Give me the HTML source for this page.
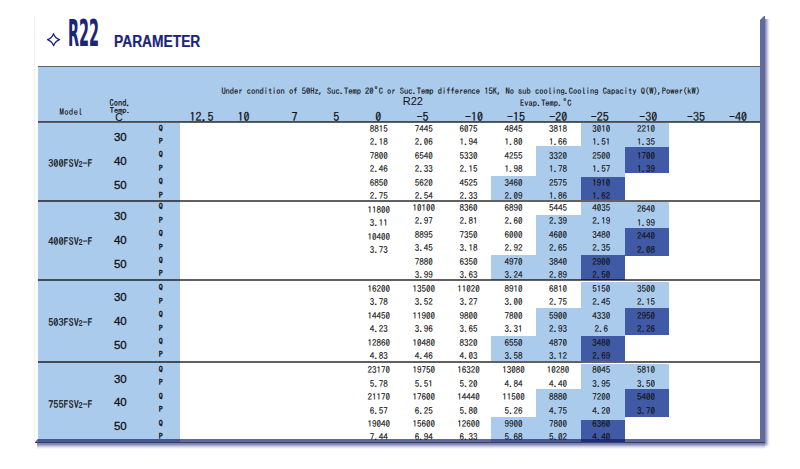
<!DOCTYPE html>
<html><head><meta charset="utf-8"><style>
html,body{margin:0;padding:0;background:#fff;width:800px;height:469px;overflow:hidden;position:relative}
body>div{position:absolute;color:#111}
.sub{font-size:7.5px;position:relative;top:0px}
</style></head><body>
<div style="left:34px;top:16px;width:1px;height:428px;background:#f3f3f3"></div>
<svg style="position:absolute;left:0;top:0" width="800" height="469">
  <path d="M53.5 33.7 Q55.1 38.1 59.6 39.7 Q55.1 41.3 53.6 45.7 Q52.0 41.3 47.5 39.7 Q52.0 38.1 53.5 33.7 Z" fill="none" stroke="#1c2478" stroke-width="1.25" stroke-linejoin="round"/>
</svg>
<div style="left:67.8px;top:13.4px;font-family:'DejaVu Sans Condensed','DejaVu Sans',sans-serif;font-stretch:condensed;font-weight:bold;font-size:38px;line-height:40px;color:#1c2478;transform:scaleX(0.42);transform-origin:0 0;-webkit-text-stroke:0.2px #1c2478">R22</div>
<div style="left:114.1px;top:32.9px;font-family:'Liberation Sans',sans-serif;font-weight:bold;font-size:16px;line-height:18px;color:#1c2478;-webkit-text-stroke:0.2px #1c2478;transform:scaleX(0.862);transform-origin:0 0">PARAMETER</div>
<div style="left:38px;top:65.8px;width:722px;height:2.0px;background:rgba(0,0,0,0.62);"></div>
<div style="left:38px;top:66.8px;width:722px;height:55.0px;background:#aacbec;"></div>
<div style="left:38px;top:120.8px;width:722px;height:2.0px;background:rgba(0,0,0,0.62);"></div>
<div style="left:38px;top:122.8px;width:142px;height:319.4px;background:#aacbec;"></div>
<div style="left:580.5px;top:123px;width:44.0px;height:54.400000000000006px;background:#aacbec;"></div>
<div style="left:624.5px;top:123px;width:44.5px;height:24px;background:#aacbec;"></div>
<div style="left:535.5px;top:145.5px;width:45.0px;height:54.5px;background:#aacbec;"></div>
<div style="left:624.5px;top:147px;width:44.5px;height:26.30000000000001px;background:#405aa5;"></div>
<div style="left:491px;top:175.5px;width:44.5px;height:24.5px;background:#aacbec;"></div>
<div style="left:580.5px;top:177.4px;width:44.0px;height:22.599999999999994px;background:#405aa5;"></div>
<div style="left:580.5px;top:202px;width:44.0px;height:52.5px;background:#aacbec;"></div>
<div style="left:624.5px;top:202px;width:44.5px;height:25.5px;background:#aacbec;"></div>
<div style="left:535.5px;top:214.5px;width:45.0px;height:65.0px;background:#aacbec;"></div>
<div style="left:624.5px;top:227.5px;width:44.5px;height:28.5px;background:#405aa5;"></div>
<div style="left:491px;top:255px;width:44.5px;height:24.5px;background:#aacbec;"></div>
<div style="left:580.5px;top:254.5px;width:44.0px;height:25.0px;background:#405aa5;"></div>
<div style="left:580.5px;top:281.5px;width:44.0px;height:54.0px;background:#aacbec;"></div>
<div style="left:624.5px;top:281.5px;width:44.5px;height:26.5px;background:#aacbec;"></div>
<div style="left:535.5px;top:308px;width:45.0px;height:53px;background:#aacbec;"></div>
<div style="left:624.5px;top:308px;width:44.5px;height:26.5px;background:#405aa5;"></div>
<div style="left:491px;top:335.5px;width:44.5px;height:25.5px;background:#aacbec;"></div>
<div style="left:580.5px;top:335.5px;width:44.0px;height:25.5px;background:#405aa5;"></div>
<div style="left:580.5px;top:363.5px;width:44.0px;height:56.5px;background:#aacbec;"></div>
<div style="left:624.5px;top:363.5px;width:44.5px;height:25.25px;background:#aacbec;"></div>
<div style="left:535.5px;top:388.5px;width:45.0px;height:53.69999999999999px;background:#aacbec;"></div>
<div style="left:624.5px;top:388.75px;width:44.5px;height:27.75px;background:#405aa5;"></div>
<div style="left:491px;top:417px;width:44.5px;height:25.19999999999999px;background:#aacbec;"></div>
<div style="left:580.5px;top:420px;width:44.0px;height:22.19999999999999px;background:#405aa5;"></div>
<div style="left:38px;top:200px;width:722px;height:2px;background:rgba(0,0,0,0.62);"></div>
<div style="left:38px;top:279.1px;width:722px;height:2.0px;background:rgba(0,0,0,0.62);"></div>
<div style="left:38px;top:361.2px;width:722px;height:2.0px;background:rgba(0,0,0,0.62);"></div>
<div style="left:358.75px;top:124.00px;width:40px;text-align:center;font-family:'IPAGothic',monospace;font-size:9px;line-height:9px;-webkit-text-stroke:0.12px #111;">8815</div>
<div style="left:403.85px;top:124.00px;width:40px;text-align:center;font-family:'IPAGothic',monospace;font-size:9px;line-height:9px;-webkit-text-stroke:0.12px #111;">7445</div>
<div style="left:448.40px;top:124.00px;width:40px;text-align:center;font-family:'IPAGothic',monospace;font-size:9px;line-height:9px;-webkit-text-stroke:0.12px #111;">6075</div>
<div style="left:493.55px;top:124.00px;width:40px;text-align:center;font-family:'IPAGothic',monospace;font-size:9px;line-height:9px;-webkit-text-stroke:0.12px #111;">4845</div>
<div style="left:537.90px;top:124.00px;width:40px;text-align:center;font-family:'IPAGothic',monospace;font-size:9px;line-height:9px;-webkit-text-stroke:0.12px #111;">3818</div>
<div style="left:581.30px;top:124.00px;width:40px;text-align:center;font-family:'IPAGothic',monospace;font-size:9px;line-height:9px;-webkit-text-stroke:0.12px #111;">3010</div>
<div style="left:626.05px;top:124.00px;width:40px;text-align:center;font-family:'IPAGothic',monospace;font-size:9px;line-height:9px;-webkit-text-stroke:0.12px #111;">2210</div>
<div style="left:154.80px;top:123.50px;width:12px;text-align:center;font-family:'IPAGothic',monospace;font-size:8px;line-height:8px;-webkit-text-stroke:0.35px #111;">Q</div>
<div style="left:358.75px;top:137.40px;width:40px;text-align:center;font-family:'IPAGothic',monospace;font-size:9px;line-height:9px;-webkit-text-stroke:0.12px #111;">2.18</div>
<div style="left:403.85px;top:137.40px;width:40px;text-align:center;font-family:'IPAGothic',monospace;font-size:9px;line-height:9px;-webkit-text-stroke:0.12px #111;">2.06</div>
<div style="left:448.40px;top:137.40px;width:40px;text-align:center;font-family:'IPAGothic',monospace;font-size:9px;line-height:9px;-webkit-text-stroke:0.12px #111;">1.94</div>
<div style="left:493.55px;top:137.40px;width:40px;text-align:center;font-family:'IPAGothic',monospace;font-size:9px;line-height:9px;-webkit-text-stroke:0.12px #111;">1.80</div>
<div style="left:537.90px;top:137.40px;width:40px;text-align:center;font-family:'IPAGothic',monospace;font-size:9px;line-height:9px;-webkit-text-stroke:0.12px #111;">1.66</div>
<div style="left:581.30px;top:137.40px;width:40px;text-align:center;font-family:'IPAGothic',monospace;font-size:9px;line-height:9px;-webkit-text-stroke:0.12px #111;">1.51</div>
<div style="left:626.05px;top:137.40px;width:40px;text-align:center;font-family:'IPAGothic',monospace;font-size:9px;line-height:9px;-webkit-text-stroke:0.12px #111;">1.35</div>
<div style="left:154.80px;top:136.90px;width:12px;text-align:center;font-family:'IPAGothic',monospace;font-size:8px;line-height:8px;-webkit-text-stroke:0.35px #111;">P</div>
<div style="left:358.75px;top:150.80px;width:40px;text-align:center;font-family:'IPAGothic',monospace;font-size:9px;line-height:9px;-webkit-text-stroke:0.12px #111;">7800</div>
<div style="left:403.85px;top:150.80px;width:40px;text-align:center;font-family:'IPAGothic',monospace;font-size:9px;line-height:9px;-webkit-text-stroke:0.12px #111;">6540</div>
<div style="left:448.40px;top:150.80px;width:40px;text-align:center;font-family:'IPAGothic',monospace;font-size:9px;line-height:9px;-webkit-text-stroke:0.12px #111;">5330</div>
<div style="left:493.55px;top:150.80px;width:40px;text-align:center;font-family:'IPAGothic',monospace;font-size:9px;line-height:9px;-webkit-text-stroke:0.12px #111;">4255</div>
<div style="left:537.90px;top:150.80px;width:40px;text-align:center;font-family:'IPAGothic',monospace;font-size:9px;line-height:9px;-webkit-text-stroke:0.12px #111;">3320</div>
<div style="left:581.30px;top:150.80px;width:40px;text-align:center;font-family:'IPAGothic',monospace;font-size:9px;line-height:9px;-webkit-text-stroke:0.12px #111;">2500</div>
<div style="left:626.05px;top:150.80px;width:40px;text-align:center;font-family:'IPAGothic',monospace;font-size:9px;line-height:9px;-webkit-text-stroke:0.12px #111;">1700</div>
<div style="left:154.80px;top:150.30px;width:12px;text-align:center;font-family:'IPAGothic',monospace;font-size:8px;line-height:8px;-webkit-text-stroke:0.35px #111;">Q</div>
<div style="left:358.75px;top:164.20px;width:40px;text-align:center;font-family:'IPAGothic',monospace;font-size:9px;line-height:9px;-webkit-text-stroke:0.12px #111;">2.46</div>
<div style="left:403.85px;top:164.20px;width:40px;text-align:center;font-family:'IPAGothic',monospace;font-size:9px;line-height:9px;-webkit-text-stroke:0.12px #111;">2.33</div>
<div style="left:448.40px;top:164.20px;width:40px;text-align:center;font-family:'IPAGothic',monospace;font-size:9px;line-height:9px;-webkit-text-stroke:0.12px #111;">2.15</div>
<div style="left:493.55px;top:164.20px;width:40px;text-align:center;font-family:'IPAGothic',monospace;font-size:9px;line-height:9px;-webkit-text-stroke:0.12px #111;">1.98</div>
<div style="left:537.90px;top:164.20px;width:40px;text-align:center;font-family:'IPAGothic',monospace;font-size:9px;line-height:9px;-webkit-text-stroke:0.12px #111;">1.78</div>
<div style="left:581.30px;top:164.20px;width:40px;text-align:center;font-family:'IPAGothic',monospace;font-size:9px;line-height:9px;-webkit-text-stroke:0.12px #111;">1.57</div>
<div style="left:626.05px;top:164.20px;width:40px;text-align:center;font-family:'IPAGothic',monospace;font-size:9px;line-height:9px;-webkit-text-stroke:0.12px #111;">1.39</div>
<div style="left:154.80px;top:163.70px;width:12px;text-align:center;font-family:'IPAGothic',monospace;font-size:8px;line-height:8px;-webkit-text-stroke:0.35px #111;">P</div>
<div style="left:358.75px;top:177.60px;width:40px;text-align:center;font-family:'IPAGothic',monospace;font-size:9px;line-height:9px;-webkit-text-stroke:0.12px #111;">6850</div>
<div style="left:403.85px;top:177.60px;width:40px;text-align:center;font-family:'IPAGothic',monospace;font-size:9px;line-height:9px;-webkit-text-stroke:0.12px #111;">5620</div>
<div style="left:448.40px;top:177.60px;width:40px;text-align:center;font-family:'IPAGothic',monospace;font-size:9px;line-height:9px;-webkit-text-stroke:0.12px #111;">4525</div>
<div style="left:493.55px;top:177.60px;width:40px;text-align:center;font-family:'IPAGothic',monospace;font-size:9px;line-height:9px;-webkit-text-stroke:0.12px #111;">3460</div>
<div style="left:537.90px;top:177.60px;width:40px;text-align:center;font-family:'IPAGothic',monospace;font-size:9px;line-height:9px;-webkit-text-stroke:0.12px #111;">2575</div>
<div style="left:581.30px;top:177.60px;width:40px;text-align:center;font-family:'IPAGothic',monospace;font-size:9px;line-height:9px;-webkit-text-stroke:0.12px #111;">1910</div>
<div style="left:154.80px;top:177.10px;width:12px;text-align:center;font-family:'IPAGothic',monospace;font-size:8px;line-height:8px;-webkit-text-stroke:0.35px #111;">Q</div>
<div style="left:358.75px;top:191.00px;width:40px;text-align:center;font-family:'IPAGothic',monospace;font-size:9px;line-height:9px;-webkit-text-stroke:0.12px #111;">2.75</div>
<div style="left:403.85px;top:191.00px;width:40px;text-align:center;font-family:'IPAGothic',monospace;font-size:9px;line-height:9px;-webkit-text-stroke:0.12px #111;">2.54</div>
<div style="left:448.40px;top:191.00px;width:40px;text-align:center;font-family:'IPAGothic',monospace;font-size:9px;line-height:9px;-webkit-text-stroke:0.12px #111;">2.33</div>
<div style="left:493.55px;top:191.00px;width:40px;text-align:center;font-family:'IPAGothic',monospace;font-size:9px;line-height:9px;-webkit-text-stroke:0.12px #111;">2.09</div>
<div style="left:537.90px;top:191.00px;width:40px;text-align:center;font-family:'IPAGothic',monospace;font-size:9px;line-height:9px;-webkit-text-stroke:0.12px #111;">1.86</div>
<div style="left:581.30px;top:191.00px;width:40px;text-align:center;font-family:'IPAGothic',monospace;font-size:9px;line-height:9px;-webkit-text-stroke:0.12px #111;">1.62</div>
<div style="left:154.80px;top:190.50px;width:12px;text-align:center;font-family:'IPAGothic',monospace;font-size:8px;line-height:8px;-webkit-text-stroke:0.35px #111;">P</div>
<div style="left:108.30px;top:131.30px;width:24px;text-align:center;font-family:'Liberation Sans',sans-serif;font-size:11.5px;line-height:12px;-webkit-text-stroke:0.3px #111;">30</div>
<div style="left:108.30px;top:155.05px;width:24px;text-align:center;font-family:'Liberation Sans',sans-serif;font-size:11.5px;line-height:12px;-webkit-text-stroke:0.3px #111;">40</div>
<div style="left:108.30px;top:178.80px;width:24px;text-align:center;font-family:'Liberation Sans',sans-serif;font-size:11.5px;line-height:12px;-webkit-text-stroke:0.3px #111;">50</div>
<div style="left:48.20px;top:158.20px;white-space:nowrap;font-family:'IPAGothic',monospace;font-size:10.2px;line-height:10px;-webkit-text-stroke:0.22px #111;">300FSV<span class=sub>2</span>-F</div>
<div style="left:358.75px;top:204.70px;width:40px;text-align:center;font-family:'IPAGothic',monospace;font-size:9px;line-height:9px;-webkit-text-stroke:0.12px #111;">11800</div>
<div style="left:403.85px;top:202.90px;width:40px;text-align:center;font-family:'IPAGothic',monospace;font-size:9px;line-height:9px;-webkit-text-stroke:0.12px #111;">10100</div>
<div style="left:448.40px;top:202.90px;width:40px;text-align:center;font-family:'IPAGothic',monospace;font-size:9px;line-height:9px;-webkit-text-stroke:0.12px #111;">8360</div>
<div style="left:493.55px;top:202.90px;width:40px;text-align:center;font-family:'IPAGothic',monospace;font-size:9px;line-height:9px;-webkit-text-stroke:0.12px #111;">6890</div>
<div style="left:537.90px;top:202.90px;width:40px;text-align:center;font-family:'IPAGothic',monospace;font-size:9px;line-height:9px;-webkit-text-stroke:0.12px #111;">5445</div>
<div style="left:581.30px;top:202.90px;width:40px;text-align:center;font-family:'IPAGothic',monospace;font-size:9px;line-height:9px;-webkit-text-stroke:0.12px #111;">4035</div>
<div style="left:626.05px;top:204.40px;width:40px;text-align:center;font-family:'IPAGothic',monospace;font-size:9px;line-height:9px;-webkit-text-stroke:0.12px #111;">2640</div>
<div style="left:154.80px;top:202.40px;width:12px;text-align:center;font-family:'IPAGothic',monospace;font-size:8px;line-height:8px;-webkit-text-stroke:0.35px #111;">Q</div>
<div style="left:358.75px;top:218.10px;width:40px;text-align:center;font-family:'IPAGothic',monospace;font-size:9px;line-height:9px;-webkit-text-stroke:0.12px #111;">3.11</div>
<div style="left:403.85px;top:216.30px;width:40px;text-align:center;font-family:'IPAGothic',monospace;font-size:9px;line-height:9px;-webkit-text-stroke:0.12px #111;">2.97</div>
<div style="left:448.40px;top:216.30px;width:40px;text-align:center;font-family:'IPAGothic',monospace;font-size:9px;line-height:9px;-webkit-text-stroke:0.12px #111;">2.81</div>
<div style="left:493.55px;top:216.30px;width:40px;text-align:center;font-family:'IPAGothic',monospace;font-size:9px;line-height:9px;-webkit-text-stroke:0.12px #111;">2.60</div>
<div style="left:537.90px;top:216.30px;width:40px;text-align:center;font-family:'IPAGothic',monospace;font-size:9px;line-height:9px;-webkit-text-stroke:0.12px #111;">2.39</div>
<div style="left:581.30px;top:216.30px;width:40px;text-align:center;font-family:'IPAGothic',monospace;font-size:9px;line-height:9px;-webkit-text-stroke:0.12px #111;">2.19</div>
<div style="left:626.05px;top:217.80px;width:40px;text-align:center;font-family:'IPAGothic',monospace;font-size:9px;line-height:9px;-webkit-text-stroke:0.12px #111;">1.99</div>
<div style="left:154.80px;top:215.80px;width:12px;text-align:center;font-family:'IPAGothic',monospace;font-size:8px;line-height:8px;-webkit-text-stroke:0.35px #111;">P</div>
<div style="left:358.75px;top:231.50px;width:40px;text-align:center;font-family:'IPAGothic',monospace;font-size:9px;line-height:9px;-webkit-text-stroke:0.12px #111;">10400</div>
<div style="left:403.85px;top:229.70px;width:40px;text-align:center;font-family:'IPAGothic',monospace;font-size:9px;line-height:9px;-webkit-text-stroke:0.12px #111;">8895</div>
<div style="left:448.40px;top:229.70px;width:40px;text-align:center;font-family:'IPAGothic',monospace;font-size:9px;line-height:9px;-webkit-text-stroke:0.12px #111;">7350</div>
<div style="left:493.55px;top:229.70px;width:40px;text-align:center;font-family:'IPAGothic',monospace;font-size:9px;line-height:9px;-webkit-text-stroke:0.12px #111;">6000</div>
<div style="left:537.90px;top:229.70px;width:40px;text-align:center;font-family:'IPAGothic',monospace;font-size:9px;line-height:9px;-webkit-text-stroke:0.12px #111;">4600</div>
<div style="left:581.30px;top:229.70px;width:40px;text-align:center;font-family:'IPAGothic',monospace;font-size:9px;line-height:9px;-webkit-text-stroke:0.12px #111;">3480</div>
<div style="left:626.05px;top:231.20px;width:40px;text-align:center;font-family:'IPAGothic',monospace;font-size:9px;line-height:9px;-webkit-text-stroke:0.12px #111;">2440</div>
<div style="left:154.80px;top:229.20px;width:12px;text-align:center;font-family:'IPAGothic',monospace;font-size:8px;line-height:8px;-webkit-text-stroke:0.35px #111;">Q</div>
<div style="left:358.75px;top:244.90px;width:40px;text-align:center;font-family:'IPAGothic',monospace;font-size:9px;line-height:9px;-webkit-text-stroke:0.12px #111;">3.73</div>
<div style="left:403.85px;top:243.10px;width:40px;text-align:center;font-family:'IPAGothic',monospace;font-size:9px;line-height:9px;-webkit-text-stroke:0.12px #111;">3.45</div>
<div style="left:448.40px;top:243.10px;width:40px;text-align:center;font-family:'IPAGothic',monospace;font-size:9px;line-height:9px;-webkit-text-stroke:0.12px #111;">3.18</div>
<div style="left:493.55px;top:243.10px;width:40px;text-align:center;font-family:'IPAGothic',monospace;font-size:9px;line-height:9px;-webkit-text-stroke:0.12px #111;">2.92</div>
<div style="left:537.90px;top:243.10px;width:40px;text-align:center;font-family:'IPAGothic',monospace;font-size:9px;line-height:9px;-webkit-text-stroke:0.12px #111;">2.65</div>
<div style="left:581.30px;top:243.10px;width:40px;text-align:center;font-family:'IPAGothic',monospace;font-size:9px;line-height:9px;-webkit-text-stroke:0.12px #111;">2.35</div>
<div style="left:626.05px;top:244.60px;width:40px;text-align:center;font-family:'IPAGothic',monospace;font-size:9px;line-height:9px;-webkit-text-stroke:0.12px #111;">2.08</div>
<div style="left:154.80px;top:242.60px;width:12px;text-align:center;font-family:'IPAGothic',monospace;font-size:8px;line-height:8px;-webkit-text-stroke:0.35px #111;">P</div>
<div style="left:403.85px;top:256.50px;width:40px;text-align:center;font-family:'IPAGothic',monospace;font-size:9px;line-height:9px;-webkit-text-stroke:0.12px #111;">7880</div>
<div style="left:448.40px;top:256.50px;width:40px;text-align:center;font-family:'IPAGothic',monospace;font-size:9px;line-height:9px;-webkit-text-stroke:0.12px #111;">6350</div>
<div style="left:493.55px;top:256.50px;width:40px;text-align:center;font-family:'IPAGothic',monospace;font-size:9px;line-height:9px;-webkit-text-stroke:0.12px #111;">4970</div>
<div style="left:537.90px;top:256.50px;width:40px;text-align:center;font-family:'IPAGothic',monospace;font-size:9px;line-height:9px;-webkit-text-stroke:0.12px #111;">3840</div>
<div style="left:581.30px;top:256.50px;width:40px;text-align:center;font-family:'IPAGothic',monospace;font-size:9px;line-height:9px;-webkit-text-stroke:0.12px #111;">2900</div>
<div style="left:154.80px;top:256.00px;width:12px;text-align:center;font-family:'IPAGothic',monospace;font-size:8px;line-height:8px;-webkit-text-stroke:0.35px #111;">Q</div>
<div style="left:403.85px;top:269.90px;width:40px;text-align:center;font-family:'IPAGothic',monospace;font-size:9px;line-height:9px;-webkit-text-stroke:0.12px #111;">3.99</div>
<div style="left:448.40px;top:269.90px;width:40px;text-align:center;font-family:'IPAGothic',monospace;font-size:9px;line-height:9px;-webkit-text-stroke:0.12px #111;">3.63</div>
<div style="left:493.55px;top:269.90px;width:40px;text-align:center;font-family:'IPAGothic',monospace;font-size:9px;line-height:9px;-webkit-text-stroke:0.12px #111;">3.24</div>
<div style="left:537.90px;top:269.90px;width:40px;text-align:center;font-family:'IPAGothic',monospace;font-size:9px;line-height:9px;-webkit-text-stroke:0.12px #111;">2.89</div>
<div style="left:581.30px;top:269.90px;width:40px;text-align:center;font-family:'IPAGothic',monospace;font-size:9px;line-height:9px;-webkit-text-stroke:0.12px #111;">2.50</div>
<div style="left:154.80px;top:269.40px;width:12px;text-align:center;font-family:'IPAGothic',monospace;font-size:8px;line-height:8px;-webkit-text-stroke:0.35px #111;">P</div>
<div style="left:108.30px;top:210.20px;width:24px;text-align:center;font-family:'Liberation Sans',sans-serif;font-size:11.5px;line-height:12px;-webkit-text-stroke:0.3px #111;">30</div>
<div style="left:108.30px;top:233.95px;width:24px;text-align:center;font-family:'Liberation Sans',sans-serif;font-size:11.5px;line-height:12px;-webkit-text-stroke:0.3px #111;">40</div>
<div style="left:108.30px;top:257.70px;width:24px;text-align:center;font-family:'Liberation Sans',sans-serif;font-size:11.5px;line-height:12px;-webkit-text-stroke:0.3px #111;">50</div>
<div style="left:48.20px;top:235.60px;white-space:nowrap;font-family:'IPAGothic',monospace;font-size:10.2px;line-height:10px;-webkit-text-stroke:0.22px #111;">400FSV<span class=sub>2</span>-F</div>
<div style="left:358.75px;top:283.90px;width:40px;text-align:center;font-family:'IPAGothic',monospace;font-size:9px;line-height:9px;-webkit-text-stroke:0.12px #111;">16200</div>
<div style="left:403.85px;top:283.90px;width:40px;text-align:center;font-family:'IPAGothic',monospace;font-size:9px;line-height:9px;-webkit-text-stroke:0.12px #111;">13500</div>
<div style="left:448.40px;top:283.90px;width:40px;text-align:center;font-family:'IPAGothic',monospace;font-size:9px;line-height:9px;-webkit-text-stroke:0.12px #111;">11020</div>
<div style="left:493.55px;top:283.90px;width:40px;text-align:center;font-family:'IPAGothic',monospace;font-size:9px;line-height:9px;-webkit-text-stroke:0.12px #111;">8910</div>
<div style="left:537.90px;top:283.90px;width:40px;text-align:center;font-family:'IPAGothic',monospace;font-size:9px;line-height:9px;-webkit-text-stroke:0.12px #111;">6810</div>
<div style="left:581.30px;top:283.90px;width:40px;text-align:center;font-family:'IPAGothic',monospace;font-size:9px;line-height:9px;-webkit-text-stroke:0.12px #111;">5150</div>
<div style="left:626.05px;top:283.90px;width:40px;text-align:center;font-family:'IPAGothic',monospace;font-size:9px;line-height:9px;-webkit-text-stroke:0.12px #111;">3500</div>
<div style="left:154.80px;top:283.40px;width:12px;text-align:center;font-family:'IPAGothic',monospace;font-size:8px;line-height:8px;-webkit-text-stroke:0.35px #111;">Q</div>
<div style="left:358.75px;top:297.30px;width:40px;text-align:center;font-family:'IPAGothic',monospace;font-size:9px;line-height:9px;-webkit-text-stroke:0.12px #111;">3.78</div>
<div style="left:403.85px;top:297.30px;width:40px;text-align:center;font-family:'IPAGothic',monospace;font-size:9px;line-height:9px;-webkit-text-stroke:0.12px #111;">3.52</div>
<div style="left:448.40px;top:297.30px;width:40px;text-align:center;font-family:'IPAGothic',monospace;font-size:9px;line-height:9px;-webkit-text-stroke:0.12px #111;">3.27</div>
<div style="left:493.55px;top:297.30px;width:40px;text-align:center;font-family:'IPAGothic',monospace;font-size:9px;line-height:9px;-webkit-text-stroke:0.12px #111;">3.00</div>
<div style="left:537.90px;top:297.30px;width:40px;text-align:center;font-family:'IPAGothic',monospace;font-size:9px;line-height:9px;-webkit-text-stroke:0.12px #111;">2.75</div>
<div style="left:581.30px;top:297.30px;width:40px;text-align:center;font-family:'IPAGothic',monospace;font-size:9px;line-height:9px;-webkit-text-stroke:0.12px #111;">2.45</div>
<div style="left:626.05px;top:297.30px;width:40px;text-align:center;font-family:'IPAGothic',monospace;font-size:9px;line-height:9px;-webkit-text-stroke:0.12px #111;">2.15</div>
<div style="left:154.80px;top:296.80px;width:12px;text-align:center;font-family:'IPAGothic',monospace;font-size:8px;line-height:8px;-webkit-text-stroke:0.35px #111;">P</div>
<div style="left:358.75px;top:310.70px;width:40px;text-align:center;font-family:'IPAGothic',monospace;font-size:9px;line-height:9px;-webkit-text-stroke:0.12px #111;">14450</div>
<div style="left:403.85px;top:310.70px;width:40px;text-align:center;font-family:'IPAGothic',monospace;font-size:9px;line-height:9px;-webkit-text-stroke:0.12px #111;">11900</div>
<div style="left:448.40px;top:310.70px;width:40px;text-align:center;font-family:'IPAGothic',monospace;font-size:9px;line-height:9px;-webkit-text-stroke:0.12px #111;">9800</div>
<div style="left:493.55px;top:310.70px;width:40px;text-align:center;font-family:'IPAGothic',monospace;font-size:9px;line-height:9px;-webkit-text-stroke:0.12px #111;">7800</div>
<div style="left:537.90px;top:310.70px;width:40px;text-align:center;font-family:'IPAGothic',monospace;font-size:9px;line-height:9px;-webkit-text-stroke:0.12px #111;">5900</div>
<div style="left:581.30px;top:310.70px;width:40px;text-align:center;font-family:'IPAGothic',monospace;font-size:9px;line-height:9px;-webkit-text-stroke:0.12px #111;">4330</div>
<div style="left:626.05px;top:310.70px;width:40px;text-align:center;font-family:'IPAGothic',monospace;font-size:9px;line-height:9px;-webkit-text-stroke:0.12px #111;">2950</div>
<div style="left:154.80px;top:310.20px;width:12px;text-align:center;font-family:'IPAGothic',monospace;font-size:8px;line-height:8px;-webkit-text-stroke:0.35px #111;">Q</div>
<div style="left:358.75px;top:324.10px;width:40px;text-align:center;font-family:'IPAGothic',monospace;font-size:9px;line-height:9px;-webkit-text-stroke:0.12px #111;">4.23</div>
<div style="left:403.85px;top:324.10px;width:40px;text-align:center;font-family:'IPAGothic',monospace;font-size:9px;line-height:9px;-webkit-text-stroke:0.12px #111;">3.96</div>
<div style="left:448.40px;top:324.10px;width:40px;text-align:center;font-family:'IPAGothic',monospace;font-size:9px;line-height:9px;-webkit-text-stroke:0.12px #111;">3.65</div>
<div style="left:493.55px;top:324.10px;width:40px;text-align:center;font-family:'IPAGothic',monospace;font-size:9px;line-height:9px;-webkit-text-stroke:0.12px #111;">3.31</div>
<div style="left:537.90px;top:324.10px;width:40px;text-align:center;font-family:'IPAGothic',monospace;font-size:9px;line-height:9px;-webkit-text-stroke:0.12px #111;">2.93</div>
<div style="left:581.30px;top:324.10px;width:40px;text-align:center;font-family:'IPAGothic',monospace;font-size:9px;line-height:9px;-webkit-text-stroke:0.12px #111;">2.6</div>
<div style="left:626.05px;top:324.10px;width:40px;text-align:center;font-family:'IPAGothic',monospace;font-size:9px;line-height:9px;-webkit-text-stroke:0.12px #111;">2.26</div>
<div style="left:154.80px;top:323.60px;width:12px;text-align:center;font-family:'IPAGothic',monospace;font-size:8px;line-height:8px;-webkit-text-stroke:0.35px #111;">P</div>
<div style="left:358.75px;top:337.50px;width:40px;text-align:center;font-family:'IPAGothic',monospace;font-size:9px;line-height:9px;-webkit-text-stroke:0.12px #111;">12860</div>
<div style="left:403.85px;top:337.50px;width:40px;text-align:center;font-family:'IPAGothic',monospace;font-size:9px;line-height:9px;-webkit-text-stroke:0.12px #111;">10480</div>
<div style="left:448.40px;top:337.50px;width:40px;text-align:center;font-family:'IPAGothic',monospace;font-size:9px;line-height:9px;-webkit-text-stroke:0.12px #111;">8320</div>
<div style="left:493.55px;top:337.50px;width:40px;text-align:center;font-family:'IPAGothic',monospace;font-size:9px;line-height:9px;-webkit-text-stroke:0.12px #111;">6550</div>
<div style="left:537.90px;top:337.50px;width:40px;text-align:center;font-family:'IPAGothic',monospace;font-size:9px;line-height:9px;-webkit-text-stroke:0.12px #111;">4870</div>
<div style="left:581.30px;top:337.50px;width:40px;text-align:center;font-family:'IPAGothic',monospace;font-size:9px;line-height:9px;-webkit-text-stroke:0.12px #111;">3480</div>
<div style="left:154.80px;top:337.00px;width:12px;text-align:center;font-family:'IPAGothic',monospace;font-size:8px;line-height:8px;-webkit-text-stroke:0.35px #111;">Q</div>
<div style="left:358.75px;top:350.90px;width:40px;text-align:center;font-family:'IPAGothic',monospace;font-size:9px;line-height:9px;-webkit-text-stroke:0.12px #111;">4.83</div>
<div style="left:403.85px;top:350.90px;width:40px;text-align:center;font-family:'IPAGothic',monospace;font-size:9px;line-height:9px;-webkit-text-stroke:0.12px #111;">4.46</div>
<div style="left:448.40px;top:350.90px;width:40px;text-align:center;font-family:'IPAGothic',monospace;font-size:9px;line-height:9px;-webkit-text-stroke:0.12px #111;">4.03</div>
<div style="left:493.55px;top:350.90px;width:40px;text-align:center;font-family:'IPAGothic',monospace;font-size:9px;line-height:9px;-webkit-text-stroke:0.12px #111;">3.58</div>
<div style="left:537.90px;top:350.90px;width:40px;text-align:center;font-family:'IPAGothic',monospace;font-size:9px;line-height:9px;-webkit-text-stroke:0.12px #111;">3.12</div>
<div style="left:581.30px;top:350.90px;width:40px;text-align:center;font-family:'IPAGothic',monospace;font-size:9px;line-height:9px;-webkit-text-stroke:0.12px #111;">2.69</div>
<div style="left:154.80px;top:350.40px;width:12px;text-align:center;font-family:'IPAGothic',monospace;font-size:8px;line-height:8px;-webkit-text-stroke:0.35px #111;">P</div>
<div style="left:108.30px;top:291.20px;width:24px;text-align:center;font-family:'Liberation Sans',sans-serif;font-size:11.5px;line-height:12px;-webkit-text-stroke:0.3px #111;">30</div>
<div style="left:108.30px;top:314.95px;width:24px;text-align:center;font-family:'Liberation Sans',sans-serif;font-size:11.5px;line-height:12px;-webkit-text-stroke:0.3px #111;">40</div>
<div style="left:108.30px;top:338.70px;width:24px;text-align:center;font-family:'Liberation Sans',sans-serif;font-size:11.5px;line-height:12px;-webkit-text-stroke:0.3px #111;">50</div>
<div style="left:48.20px;top:317.40px;white-space:nowrap;font-family:'IPAGothic',monospace;font-size:10.2px;line-height:10px;-webkit-text-stroke:0.22px #111;">503FSV<span class=sub>2</span>-F</div>
<div style="left:358.75px;top:365.40px;width:40px;text-align:center;font-family:'IPAGothic',monospace;font-size:9px;line-height:9px;-webkit-text-stroke:0.12px #111;">23170</div>
<div style="left:403.85px;top:365.40px;width:40px;text-align:center;font-family:'IPAGothic',monospace;font-size:9px;line-height:9px;-webkit-text-stroke:0.12px #111;">19750</div>
<div style="left:448.40px;top:365.40px;width:40px;text-align:center;font-family:'IPAGothic',monospace;font-size:9px;line-height:9px;-webkit-text-stroke:0.12px #111;">16320</div>
<div style="left:493.55px;top:365.40px;width:40px;text-align:center;font-family:'IPAGothic',monospace;font-size:9px;line-height:9px;-webkit-text-stroke:0.12px #111;">13080</div>
<div style="left:537.90px;top:365.40px;width:40px;text-align:center;font-family:'IPAGothic',monospace;font-size:9px;line-height:9px;-webkit-text-stroke:0.12px #111;">10280</div>
<div style="left:581.30px;top:365.40px;width:40px;text-align:center;font-family:'IPAGothic',monospace;font-size:9px;line-height:9px;-webkit-text-stroke:0.12px #111;">8045</div>
<div style="left:626.05px;top:365.40px;width:40px;text-align:center;font-family:'IPAGothic',monospace;font-size:9px;line-height:9px;-webkit-text-stroke:0.12px #111;">5810</div>
<div style="left:154.80px;top:364.90px;width:12px;text-align:center;font-family:'IPAGothic',monospace;font-size:8px;line-height:8px;-webkit-text-stroke:0.35px #111;">Q</div>
<div style="left:358.75px;top:378.80px;width:40px;text-align:center;font-family:'IPAGothic',monospace;font-size:9px;line-height:9px;-webkit-text-stroke:0.12px #111;">5.78</div>
<div style="left:403.85px;top:378.80px;width:40px;text-align:center;font-family:'IPAGothic',monospace;font-size:9px;line-height:9px;-webkit-text-stroke:0.12px #111;">5.51</div>
<div style="left:448.40px;top:378.80px;width:40px;text-align:center;font-family:'IPAGothic',monospace;font-size:9px;line-height:9px;-webkit-text-stroke:0.12px #111;">5.20</div>
<div style="left:493.55px;top:378.80px;width:40px;text-align:center;font-family:'IPAGothic',monospace;font-size:9px;line-height:9px;-webkit-text-stroke:0.12px #111;">4.84</div>
<div style="left:537.90px;top:378.80px;width:40px;text-align:center;font-family:'IPAGothic',monospace;font-size:9px;line-height:9px;-webkit-text-stroke:0.12px #111;">4.40</div>
<div style="left:581.30px;top:378.80px;width:40px;text-align:center;font-family:'IPAGothic',monospace;font-size:9px;line-height:9px;-webkit-text-stroke:0.12px #111;">3.95</div>
<div style="left:626.05px;top:378.80px;width:40px;text-align:center;font-family:'IPAGothic',monospace;font-size:9px;line-height:9px;-webkit-text-stroke:0.12px #111;">3.50</div>
<div style="left:154.80px;top:378.30px;width:12px;text-align:center;font-family:'IPAGothic',monospace;font-size:8px;line-height:8px;-webkit-text-stroke:0.35px #111;">P</div>
<div style="left:358.75px;top:392.20px;width:40px;text-align:center;font-family:'IPAGothic',monospace;font-size:9px;line-height:9px;-webkit-text-stroke:0.12px #111;">21170</div>
<div style="left:403.85px;top:392.20px;width:40px;text-align:center;font-family:'IPAGothic',monospace;font-size:9px;line-height:9px;-webkit-text-stroke:0.12px #111;">17600</div>
<div style="left:448.40px;top:392.20px;width:40px;text-align:center;font-family:'IPAGothic',monospace;font-size:9px;line-height:9px;-webkit-text-stroke:0.12px #111;">14440</div>
<div style="left:493.55px;top:392.20px;width:40px;text-align:center;font-family:'IPAGothic',monospace;font-size:9px;line-height:9px;-webkit-text-stroke:0.12px #111;">11500</div>
<div style="left:537.90px;top:392.20px;width:40px;text-align:center;font-family:'IPAGothic',monospace;font-size:9px;line-height:9px;-webkit-text-stroke:0.12px #111;">8880</div>
<div style="left:581.30px;top:392.20px;width:40px;text-align:center;font-family:'IPAGothic',monospace;font-size:9px;line-height:9px;-webkit-text-stroke:0.12px #111;">7200</div>
<div style="left:626.05px;top:392.20px;width:40px;text-align:center;font-family:'IPAGothic',monospace;font-size:9px;line-height:9px;-webkit-text-stroke:0.12px #111;">5400</div>
<div style="left:154.80px;top:391.70px;width:12px;text-align:center;font-family:'IPAGothic',monospace;font-size:8px;line-height:8px;-webkit-text-stroke:0.35px #111;">Q</div>
<div style="left:358.75px;top:405.60px;width:40px;text-align:center;font-family:'IPAGothic',monospace;font-size:9px;line-height:9px;-webkit-text-stroke:0.12px #111;">6.57</div>
<div style="left:403.85px;top:405.60px;width:40px;text-align:center;font-family:'IPAGothic',monospace;font-size:9px;line-height:9px;-webkit-text-stroke:0.12px #111;">6.25</div>
<div style="left:448.40px;top:405.60px;width:40px;text-align:center;font-family:'IPAGothic',monospace;font-size:9px;line-height:9px;-webkit-text-stroke:0.12px #111;">5.80</div>
<div style="left:493.55px;top:405.60px;width:40px;text-align:center;font-family:'IPAGothic',monospace;font-size:9px;line-height:9px;-webkit-text-stroke:0.12px #111;">5.26</div>
<div style="left:537.90px;top:405.60px;width:40px;text-align:center;font-family:'IPAGothic',monospace;font-size:9px;line-height:9px;-webkit-text-stroke:0.12px #111;">4.75</div>
<div style="left:581.30px;top:405.60px;width:40px;text-align:center;font-family:'IPAGothic',monospace;font-size:9px;line-height:9px;-webkit-text-stroke:0.12px #111;">4.20</div>
<div style="left:626.05px;top:405.60px;width:40px;text-align:center;font-family:'IPAGothic',monospace;font-size:9px;line-height:9px;-webkit-text-stroke:0.12px #111;">3.70</div>
<div style="left:154.80px;top:405.10px;width:12px;text-align:center;font-family:'IPAGothic',monospace;font-size:8px;line-height:8px;-webkit-text-stroke:0.35px #111;">P</div>
<div style="left:358.75px;top:419.00px;width:40px;text-align:center;font-family:'IPAGothic',monospace;font-size:9px;line-height:9px;-webkit-text-stroke:0.12px #111;">19040</div>
<div style="left:403.85px;top:419.00px;width:40px;text-align:center;font-family:'IPAGothic',monospace;font-size:9px;line-height:9px;-webkit-text-stroke:0.12px #111;">15600</div>
<div style="left:448.40px;top:419.00px;width:40px;text-align:center;font-family:'IPAGothic',monospace;font-size:9px;line-height:9px;-webkit-text-stroke:0.12px #111;">12600</div>
<div style="left:493.55px;top:419.00px;width:40px;text-align:center;font-family:'IPAGothic',monospace;font-size:9px;line-height:9px;-webkit-text-stroke:0.12px #111;">9900</div>
<div style="left:537.90px;top:419.00px;width:40px;text-align:center;font-family:'IPAGothic',monospace;font-size:9px;line-height:9px;-webkit-text-stroke:0.12px #111;">7800</div>
<div style="left:581.30px;top:419.00px;width:40px;text-align:center;font-family:'IPAGothic',monospace;font-size:9px;line-height:9px;-webkit-text-stroke:0.12px #111;">6360</div>
<div style="left:154.80px;top:418.50px;width:12px;text-align:center;font-family:'IPAGothic',monospace;font-size:8px;line-height:8px;-webkit-text-stroke:0.35px #111;">Q</div>
<div style="left:358.75px;top:432.40px;width:40px;text-align:center;font-family:'IPAGothic',monospace;font-size:9px;line-height:9px;-webkit-text-stroke:0.12px #111;">7.44</div>
<div style="left:403.85px;top:432.40px;width:40px;text-align:center;font-family:'IPAGothic',monospace;font-size:9px;line-height:9px;-webkit-text-stroke:0.12px #111;">6.94</div>
<div style="left:448.40px;top:432.40px;width:40px;text-align:center;font-family:'IPAGothic',monospace;font-size:9px;line-height:9px;-webkit-text-stroke:0.12px #111;">6.33</div>
<div style="left:493.55px;top:432.40px;width:40px;text-align:center;font-family:'IPAGothic',monospace;font-size:9px;line-height:9px;-webkit-text-stroke:0.12px #111;">5.68</div>
<div style="left:537.90px;top:432.40px;width:40px;text-align:center;font-family:'IPAGothic',monospace;font-size:9px;line-height:9px;-webkit-text-stroke:0.12px #111;">5.02</div>
<div style="left:581.30px;top:432.40px;width:40px;text-align:center;font-family:'IPAGothic',monospace;font-size:9px;line-height:9px;-webkit-text-stroke:0.12px #111;">4.40</div>
<div style="left:154.80px;top:431.90px;width:12px;text-align:center;font-family:'IPAGothic',monospace;font-size:8px;line-height:8px;-webkit-text-stroke:0.35px #111;">P</div>
<div style="left:108.30px;top:372.70px;width:24px;text-align:center;font-family:'Liberation Sans',sans-serif;font-size:11.5px;line-height:12px;-webkit-text-stroke:0.3px #111;">30</div>
<div style="left:108.30px;top:396.45px;width:24px;text-align:center;font-family:'Liberation Sans',sans-serif;font-size:11.5px;line-height:12px;-webkit-text-stroke:0.3px #111;">40</div>
<div style="left:108.30px;top:420.20px;width:24px;text-align:center;font-family:'Liberation Sans',sans-serif;font-size:11.5px;line-height:12px;-webkit-text-stroke:0.3px #111;">50</div>
<div style="left:48.20px;top:399.40px;white-space:nowrap;font-family:'IPAGothic',monospace;font-size:10.2px;line-height:10px;-webkit-text-stroke:0.22px #111;">755FSV<span class=sub>2</span>-F</div>
<div style="left:181.60px;top:110.00px;width:40px;text-align:center;font-family:'IPAGothic',monospace;font-size:12px;line-height:12px;-webkit-text-stroke:0.2px #000;">12.5</div>
<div style="left:223.60px;top:110.00px;width:40px;text-align:center;font-family:'IPAGothic',monospace;font-size:12px;line-height:12px;-webkit-text-stroke:0.2px #000;">10</div>
<div style="left:274.40px;top:110.00px;width:40px;text-align:center;font-family:'IPAGothic',monospace;font-size:12px;line-height:12px;-webkit-text-stroke:0.2px #000;">7</div>
<div style="left:316.20px;top:110.00px;width:40px;text-align:center;font-family:'IPAGothic',monospace;font-size:12px;line-height:12px;-webkit-text-stroke:0.2px #000;">5</div>
<div style="left:358.30px;top:110.00px;width:40px;text-align:center;font-family:'IPAGothic',monospace;font-size:12px;line-height:12px;-webkit-text-stroke:0.2px #000;">0</div>
<div style="left:402.50px;top:110.00px;width:40px;text-align:center;font-family:'IPAGothic',monospace;font-size:12px;line-height:12px;-webkit-text-stroke:0.2px #000;">-5</div>
<div style="left:454.00px;top:110.00px;width:40px;text-align:center;font-family:'IPAGothic',monospace;font-size:12px;line-height:12px;-webkit-text-stroke:0.2px #000;">-10</div>
<div style="left:496.00px;top:110.00px;width:40px;text-align:center;font-family:'IPAGothic',monospace;font-size:12px;line-height:12px;-webkit-text-stroke:0.2px #000;">-15</div>
<div style="left:538.20px;top:110.00px;width:40px;text-align:center;font-family:'IPAGothic',monospace;font-size:12px;line-height:12px;-webkit-text-stroke:0.2px #000;">-20</div>
<div style="left:579.70px;top:110.00px;width:40px;text-align:center;font-family:'IPAGothic',monospace;font-size:12px;line-height:12px;-webkit-text-stroke:0.2px #000;">-25</div>
<div style="left:628.20px;top:110.00px;width:40px;text-align:center;font-family:'IPAGothic',monospace;font-size:12px;line-height:12px;-webkit-text-stroke:0.2px #000;">-30</div>
<div style="left:676.00px;top:110.00px;width:40px;text-align:center;font-family:'IPAGothic',monospace;font-size:12px;line-height:12px;-webkit-text-stroke:0.2px #000;">-35</div>
<div style="left:718.00px;top:110.00px;width:40px;text-align:center;font-family:'IPAGothic',monospace;font-size:12px;line-height:12px;-webkit-text-stroke:0.2px #000;">-40</div>
<div style="left:221.40px;top:86.60px;white-space:nowrap;font-family:'IPAGothic',monospace;font-size:8.46px;line-height:9px;-webkit-text-stroke:0.15px #111;">Under condition of 50Hz, Suc.Temp 20˚C or Suc.Temp difference 15K, No sub cooling.Cooling Capacity Q(W),Power(kW)</div>
<div style="left:397.80px;top:96.00px;width:30px;text-align:center;font-family:'Liberation Sans',sans-serif;font-size:11px;line-height:11px;">R22</div>
<div style="left:520.00px;top:99.30px;white-space:nowrap;font-family:'IPAGothic',monospace;font-size:8.46px;line-height:9px;-webkit-text-stroke:0.15px #111;">Evap.Temp.˚C</div>
<div style="left:59.60px;top:107.00px;white-space:nowrap;font-family:'IPAGothic',monospace;font-size:8.46px;line-height:9px;-webkit-text-stroke:0.15px #111;font-size:8.8px;letter-spacing:0.2px;-webkit-text-stroke:0.1px #111">Model</div>
<div style="left:109.6px;top:97.8px;font-family:IPAGothic,monospace;font-size:8.4px;line-height:8px;transform:scaleY(1.08);transform-origin:0 0;-webkit-text-stroke:0.2px #111">Cond.</div>
<div style="left:109.8px;top:106.6px;font-family:IPAGothic,monospace;font-size:8.4px;line-height:8px;transform:scaleY(0.9);transform-origin:0 0;-webkit-text-stroke:0.2px #111">Temp.</div>
<div style="left:115.3px;top:113.3px;font-family:'Liberation Sans',sans-serif;font-size:10.3px;line-height:10px;-webkit-text-stroke:0.1px #111">C</div>
<div style="left:765px;top:19px;width:5px;height:424.2px;background:linear-gradient(to right,rgba(99,105,157,.85) 0,rgba(99,105,157,.45) 2px,rgba(99,105,157,.12) 3.8px,rgba(99,105,157,0) 5px)"></div>
<div style="left:37px;top:443.2px;width:728px;height:6.5px;background:linear-gradient(rgba(99,105,160,.9) 0,rgba(99,105,160,.75) 1.5px,rgba(110,115,165,.35) 3.5px,rgba(110,115,165,.1) 5px,rgba(110,115,165,0) 6.5px)"></div>
<div style="left:765px;top:443.2px;width:5px;height:6.5px;background:radial-gradient(circle at 0 0,rgba(99,105,160,.85) 0,rgba(99,105,160,.45) 2px,rgba(110,115,165,.12) 3.8px,rgba(110,115,165,0) 5.5px)"></div>
<div style="left:760px;top:16px;width:5px;height:426.2px;background:#63699d;clip-path:polygon(0 4px,4px 0,100% 0,100% 100%,0 100%)"></div>
<div style="left:35px;top:438.6px;width:725px;height:3.6px;background:rgba(10,25,100,.65);clip-path:polygon(3px 0,100% 0,100% 100%,0 100%)"></div>
<div style="left:35px;top:442.2px;width:730px;height:1px;background:#3c4266"></div>
</body></html>
